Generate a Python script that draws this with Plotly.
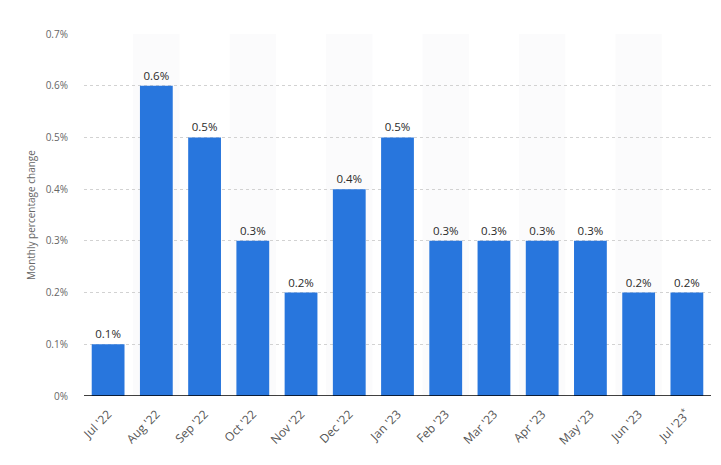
import plotly.graph_objects as go

months = ["Jul '22", "Aug '22", "Sep '22", "Oct '22", "Nov '22", "Dec '22", "Jan '23",
          "Feb '23", "Mar '23", "Apr '23", "May '23", "Jun '23", "Jul '23<sup>*</sup>"]
values = [0.1, 0.6, 0.5, 0.3, 0.2, 0.4, 0.5, 0.3, 0.3, 0.3, 0.3, 0.2, 0.2]
y_ticks = [0, 0.1, 0.2, 0.3, 0.4, 0.5, 0.6, 0.7]
y_labels = ["0%", "0.1%", "0.2%", "0.3%", "0.4%", "0.5%", "0.6%", "0.7%"]

fig = go.Figure()
fig.add_trace(go.Bar(
    x=list(range(len(months))),
    y=values,
    marker=dict(color="#2876dd", line=dict(width=0)),
    text=[f"{v}%" for v in values],
    textposition="outside",
    textfont=dict(family="Open Sans", size=11.5, color="#2b2b2b", weight=500),
    cliponaxis=False,
))

# light column bands behind every other month
shapes = []
for i in range(1, len(months), 2):
    shapes.append(dict(type="rect", xref="x", yref="y", x0=i - 0.48, x1=i + 0.48,
                       y0=0, y1=0.7, fillcolor="#fbfbfc", line=dict(width=0), layer="below"))
shapes.append(dict(type="line", xref="paper", yref="y", x0=0, x1=1, y0=0, y1=0,
                   line=dict(color="#000000", width=1.5)))

# page has ~7px body margin, so margins are shifted to line up with the reference
fig.update_layout(
    width=721,
    height=465,
    margin=dict(l=76, r=18, t=26, b=77),
    paper_bgcolor="white",
    plot_bgcolor="white",
    bargap=0.32,
    showlegend=False,
    shapes=shapes,
    font=dict(family="Open Sans", size=10, color="#666666"),
    xaxis=dict(
        tickmode="array",
        tickvals=list(range(len(months))),
        ticktext=months,
        tickangle=-45,
        range=[-0.5, len(months) - 0.5],
        showgrid=False,
        zeroline=False,
        showline=False,
        ticklabelstandoff=8,
        tickfont=dict(size=12, color="#555555"),
    ),
    yaxis=dict(
        range=[0, 0.7],
        tickmode="array",
        tickvals=y_ticks,
        ticktext=y_labels,
        showgrid=True,
        gridcolor="#d2d2d2",
        griddash="dot",
        gridwidth=0.8,
        zeroline=False,
        ticks="",
        ticklabelstandoff=15,
        tickfont=dict(size=10, color="#666666"),
        title=dict(text="Monthly percentage change", font=dict(size=10, color="#666666"), standoff=8),
    ),
)

fig.write_html("out.html")
